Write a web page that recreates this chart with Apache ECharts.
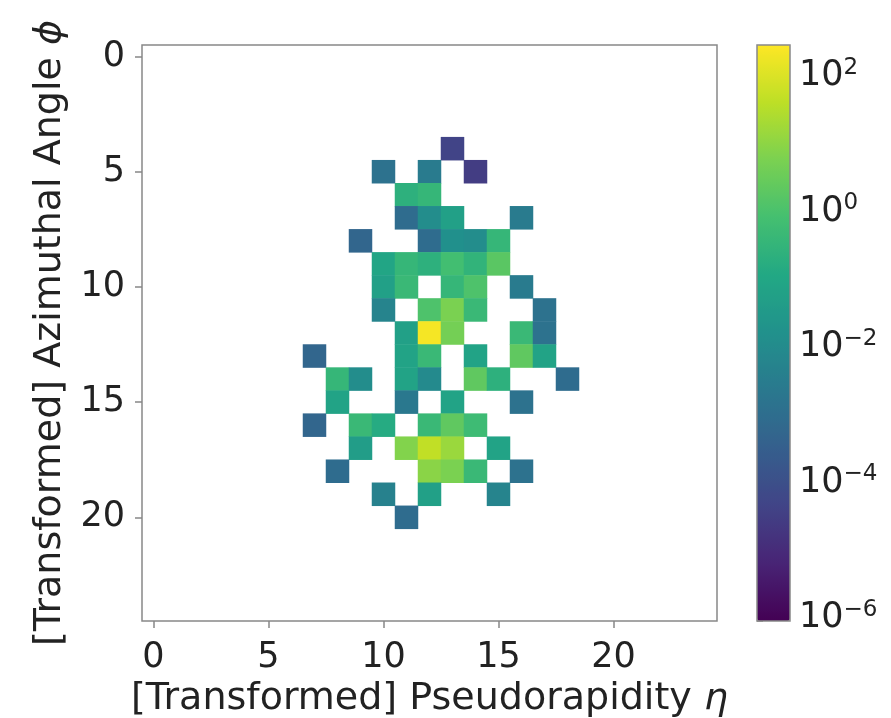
<!DOCTYPE html>
<html><head><meta charset="utf-8">
<script src="https://cdn.jsdelivr.net/npm/echarts@6/dist/echarts.min.js"></script>
<style>html,body{margin:0;padding:0;background:#fff}#c{width:891px;height:718px}</style>
</head><body><div id="c"></div>
<script>
// Grid bins (25 x 25), tick labels and cell energies
const etaBins = Array.from({length: 25}, (_, i) => String(i));
const phiBins = Array.from({length: 25}, (_, i) => String(i));
const cellEta = [13,14,10,12,11,12,11,12,13,16,9,12,13,14,15,10,11,12,13,14,15,10,11,13,14,16,10,12,13,14,17,11,12,13,16,17,7,11,12,14,16,17,8,9,11,12,14,15,18,8,11,13,16,7,9,10,12,13,14,9,11,12,13,15,8,12,13,14,16,10,12,15,11];
const cellPhi = [4,5,5,5,6,6,7,7,7,7,8,8,8,8,8,9,9,9,9,9,9,10,10,10,10,10,11,11,11,11,11,12,12,12,12,12,13,13,13,13,13,13,14,14,14,14,14,14,14,15,15,15,15,16,16,16,16,16,16,17,17,17,17,17,18,18,18,18,18,19,19,19,20];
const cellEnergy = [5.0e-5,3.2e-5,1.6e-3,3.2e-3,0.25,0.40,1.0e-3,0.0126,0.063,3.2e-3,6.3e-4,1.0e-3,0.016,0.0126,0.40,0.10,0.40,0.25,0.79,0.32,2.0,0.063,0.50,0.40,1.26,3.2e-3,6.3e-3,1.26,6.3,0.50,1.6e-3,0.063,250,5.0,0.50,1.6e-3,6.3e-4,0.079,0.50,0.079,2.5,0.079,0.40,0.0126,0.079,0.010,2.5,0.25,1.0e-3,0.079,2.5e-3,0.079,1.6e-3,6.3e-4,0.50,0.16,0.50,2.5,0.63,0.050,7.9,50,16,0.079,1.0e-3,10,6.3,0.50,1.6e-3,5.0e-3,0.063,6.3e-3,1.0e-3];
const colorTicks = [-6, -4, -2, 0, 2];
const logMin = -6, logMax = 2.5;

const viridis = ['#440154','#482475','#414487','#355f8d','#2a788e','#21918c','#22a884','#44bf70','#7ad151','#bddf26','#fde725'];
const data = cellEta.map((e, i) => [e, cellPhi[i], Math.log10(cellEnergy[i])]);
const FONT = 'DejaVu Sans';
const TICK = 35, TITLE = 38;
const sup = v => '10{s|' + String(v).replace('-', '\u2212') + '}';

const chart = echarts.init(document.getElementById('c'));
chart.setOption({
  animation: false,
  textStyle: {fontFamily: FONT},
  grid: [
    {left: 142, top: 45, width: 575, height: 576, show: true, borderColor: '#888', borderWidth: 1.5, z: 10, containLabel: false, outerBoundsMode: 'none'},
    {left: 757, top: 45, width: 33, height: 576, show: true, borderColor: '#888', borderWidth: 1.5, backgroundColor: 'transparent', z: 10, containLabel: false, outerBoundsMode: 'none'}
  ],
  xAxis: [
    {type: 'category', data: etaBins, gridIndex: 0, position: 'bottom',
     name: '[Transformed] Pseudorapidity {i|\u03b7}', nameLocation: 'middle', nameGap: 59,
     nameTextStyle: {fontSize: TITLE, color: '#222', fontFamily: FONT, rich: {i: {fontSize: TITLE, fontStyle: 'italic', fontFamily: FONT, color: '#222'}}},
     axisLine: {show: false}, splitLine: {show: false},
     axisTick: {show: true, interval: 4, alignWithLabel: true, length: 7, lineStyle: {color: '#888', width: 1.5}},
     axisLabel: {interval: 4, fontSize: TICK, color: '#222', margin: 19}},
    {type: 'value', gridIndex: 1, show: false, min: 0, max: 1}
  ],
  yAxis: [
    {type: 'category', data: phiBins, gridIndex: 0, inverse: true,
     name: '[Transformed] Azimuthal Angle {i|\u03d5}', nameLocation: 'middle', nameGap: 72,
     nameTextStyle: {fontSize: TITLE, color: '#222', fontFamily: FONT, rich: {i: {fontSize: TITLE, fontStyle: 'italic', fontFamily: FONT, color: '#222'}}},
     axisLine: {show: false}, splitLine: {show: false},
     axisTick: {show: true, interval: 4, alignWithLabel: true, length: 7, lineStyle: {color: '#888', width: 1.5}},
     axisLabel: {interval: 4, fontSize: TICK, color: '#222', margin: 17, padding: [0, 0, 8, 0]}},
    {type: 'value', gridIndex: 1, position: 'right', min: logMin, max: logMax, interval: 2,
     axisLine: {show: false}, splitLine: {show: false},
     axisTick: {show: true, length: 6, lineStyle: {color: '#888', width: 1.5}},
     axisLabel: {fontSize: TICK, color: '#222', margin: 9, showMaxLabel: false, padding: [0, 0, 6, 0],
       formatter: v => sup(v),
       rich: {s: {fontSize: 23, color: '#222', verticalAlign: 'top', padding: [0,0,16,0], fontFamily: FONT}}}}
  ],
  visualMap: {
    type: 'continuous', min: logMin, max: logMax, dimension: 2, seriesIndex: 0,
    calculable: false, showLabel: false, text: null, hoverLink: false,
    left: 757, top: 45, itemWidth: 33, itemHeight: 576, padding: 0,
    inRange: {color: viridis}
  },
  series: [{
    type: 'heatmap', xAxisIndex: 0, yAxisIndex: 0, data: data,
    itemStyle: {borderWidth: 0}, emphasis: {disabled: true}
  }]
});
</script></body></html>
